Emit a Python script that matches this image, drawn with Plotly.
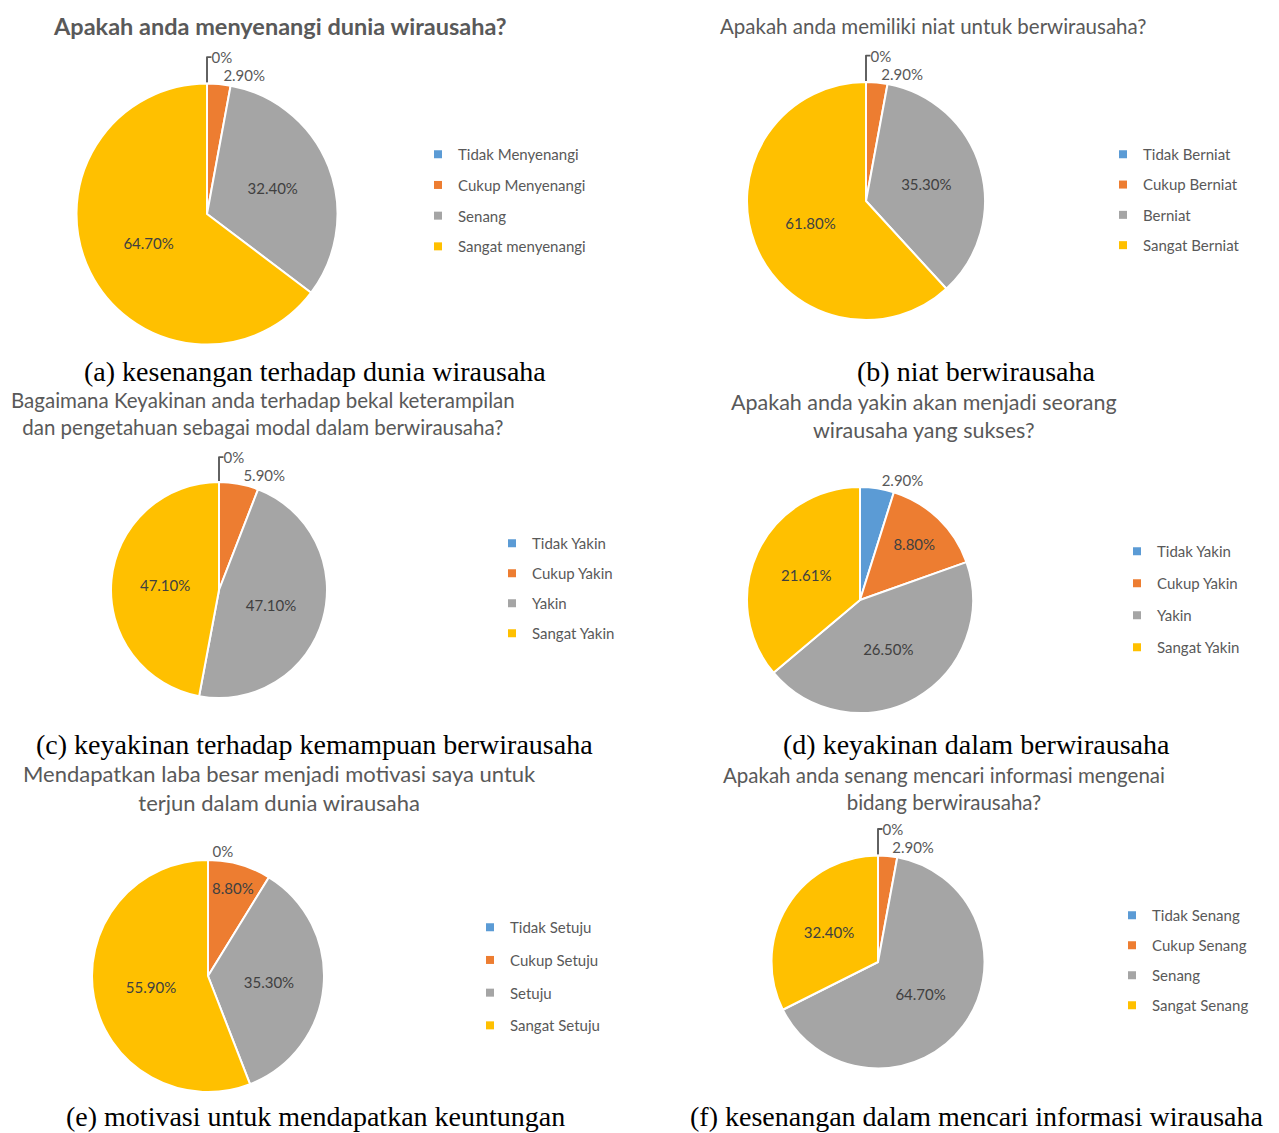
import plotly.graph_objects as go

# page offset of the plot div (browser body margin)
OFF = 8
W, H = 1279 - OFF, 1133 - OFF

# ---------------- data ----------------
titles = [
    "Apakah anda menyenangi dunia wirausaha?",
    "Apakah anda memiliki niat untuk berwirausaha?",
    "Bagaimana Keyakinan anda terhadap bekal keterampilan<br>dan pengetahuan sebagai modal dalam berwirausaha?",
    "Apakah anda yakin akan menjadi seorang<br>wirausaha yang sukses?",
    "Mendapatkan laba besar menjadi motivasi saya untuk<br>terjun dalam dunia wirausaha",
    "Apakah anda senang mencari informasi mengenai<br>bidang berwirausaha?",
]
captions = [
    "(a) kesenangan terhadap dunia wirausaha",
    "(b) niat berwirausaha",
    "(c) keyakinan terhadap kemampuan berwirausaha",
    "(d) keyakinan dalam berwirausaha",
    "(e) motivasi untuk mendapatkan keuntungan",
    "(f) kesenangan dalam mencari informasi wirausaha",
]

categories_a = ["Tidak Menyenangi", "Cukup Menyenangi", "Senang", "Sangat menyenangi"]
values_a = [0, 2.9, 32.4, 64.7]

categories_b = ["Tidak Berniat", "Cukup Berniat", "Berniat", "Sangat Berniat"]
values_b = [0, 2.9, 35.3, 61.8]

categories_c = ["Tidak Yakin", "Cukup Yakin", "Yakin", "Sangat Yakin"]
values_c = [0, 5.9, 47.1, 47.1]

categories_d = ["Tidak Yakin", "Cukup Yakin", "Yakin", "Sangat Yakin"]
values_d = [2.9, 8.8, 26.5, 21.61]

categories_e = ["Tidak Setuju", "Cukup Setuju", "Setuju", "Sangat Setuju"]
values_e = [0, 8.8, 35.3, 55.9]

categories_f = ["Tidak Senang", "Cukup Senang", "Senang", "Sangat Senang"]
values_f = [0, 2.9, 64.7, 32.4]

colors = ["#5B9BD5", "#ED7D31", "#A5A5A5", "#FFC000"]

# ---------------- layout (page pixel positions) ----------------
# pie centre x, centre y, diameter
pies = [
    (207, 214, 261),
    (866, 201, 238),
    (219, 590, 216),
    (860, 600, 226),
    (208, 976, 232),
    (878, 962, 213),
]
# legend text-left x, first item centre y, item pitch
legends = [
    (458, 155, 30.7),
    (1143, 155, 30.3),
    (532, 544, 30.0),
    (1157, 552, 32.0),
    (510, 928, 32.7),
    (1152, 916, 30.0),
]
title_pos = [(280, 26), (933, 26), (263, 414), (924, 416), (279, 788), (944, 788)]
title_size = [23.5, 20.5, 20.5, 21.5, 22, 20.5]
title_bold = [True, False, False, False, False, False]
caption_pos = [(315, 371), (976, 371), (314, 744), (976, 744), (315, 1116), (977, 1116)]

datasets = [
    (categories_a, values_a),
    (categories_b, values_b),
    (categories_c, values_c),
    (categories_d, values_d),
    (categories_e, values_e),
    (categories_f, values_f),
]

FONT = "Lato"
TXT = "#595959"
LEG_FS = 15


def px(x):
    return (x - OFF) / W


def py(y):
    return 1 - (y - OFF) / H


fig = go.Figure()

for i, ((cats, vals), (cx, cy, d)) in enumerate(zip(datasets, pies)):
    text = ["0%" if v == 0 else f"{v:.2f}%" for v in vals]
    pos = ["outside" if v < 8 else "inside" for v in vals]
    fig.add_trace(go.Pie(
        labels=cats,
        values=vals,
        text=text,
        textinfo="text",
        textposition=pos,
        sort=False,
        direction="clockwise",
        rotation=0,
        marker=dict(colors=colors, line=dict(color="white", width=2)),
        insidetextfont=dict(family=FONT, size=15, color="#404040"),
        outsidetextfont=dict(family=FONT, size=15, color=TXT),
        insidetextorientation="horizontal",
        showlegend=False,
        domain=dict(x=[px(cx - d / 2), px(cx + d / 2)],
                    y=[py(cy + d / 2), py(cy - d / 2)]),
        hoverinfo="label+text",
    ))
    lname = "legend" if i == 0 else f"legend{i + 1}"
    for j, (c, col) in enumerate(zip(cats, colors)):
        fig.add_trace(go.Scatter(
            x=[None], y=[None], mode="markers",
            marker=dict(symbol="square", size=8, color=col),
            name=c, legend=lname, legendgroup=f"g{i}_{j}", showlegend=True,
        ))

layout_legends = {}
item_h = LEG_FS * 1.3 + 3
for i, (lx, ly, pitch) in enumerate(legends):
    lname = "legend" if i == 0 else f"legend{i + 1}"
    layout_legends[lname] = dict(
        x=px(lx - 40), y=py(ly - 17),
        xanchor="left", yanchor="top",
        font=dict(family=FONT, size=LEG_FS, color=TXT),
        bgcolor="rgba(0,0,0,0)",
        tracegroupgap=pitch - item_h,
        itemclick=False, itemdoubleclick=False,
    )

annotations = []
for i, t in enumerate(titles):
    tx, ty = title_pos[i]
    txt = f"<b>{t}</b>" if title_bold[i] else t
    annotations.append(dict(
        text=txt, x=px(tx), y=py(ty), xref="paper", yref="paper",
        xanchor="center", yanchor="middle", showarrow=False,
        font=dict(family=FONT, size=title_size[i], color=TXT),
    ))
for i, c in enumerate(captions):
    cx, cy = caption_pos[i]
    annotations.append(dict(
        text=c, x=px(cx), y=py(cy), xref="paper", yref="paper",
        xanchor="center", yanchor="middle", showarrow=False,
        font=dict(family="Liberation Serif", size=28, color="black"),
    ))

fig.update_layout(
    width=W, height=H,
    margin=dict(l=0, r=0, t=0, b=0),
    paper_bgcolor="white", plot_bgcolor="white",
    xaxis=dict(visible=False), yaxis=dict(visible=False),
    annotations=annotations,
    **layout_legends,
)

fig.write_html("out.html")
